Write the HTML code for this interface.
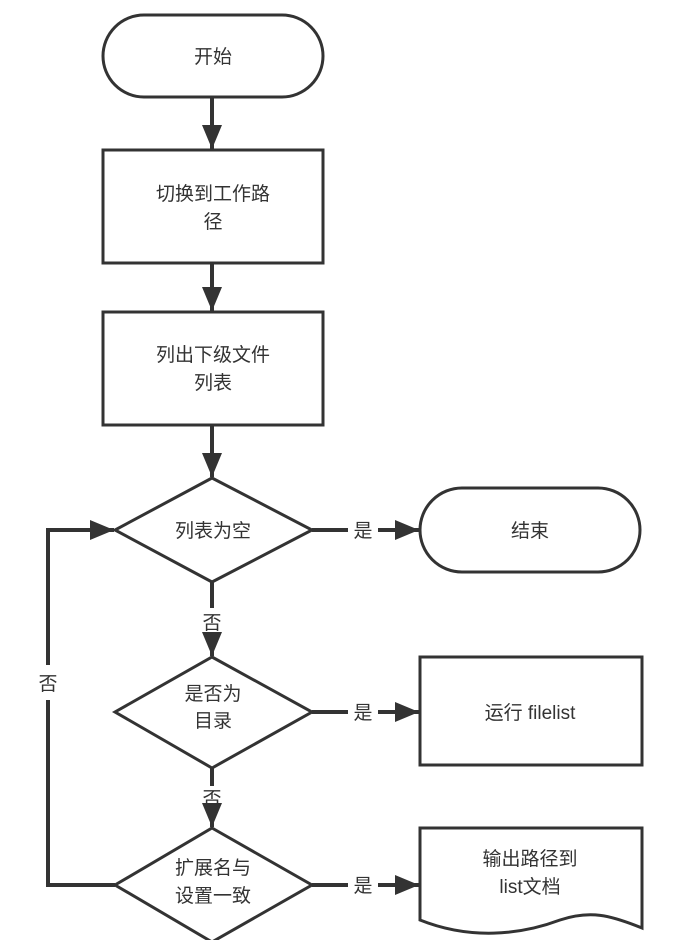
<!DOCTYPE html>
<html><head><meta charset="utf-8"><style>
html,body{margin:0;padding:0;background:#fff;}
svg{display:block;}
text{font-family:"Liberation Sans","Noto Sans CJK SC",sans-serif;font-size:19px;fill:#333;text-anchor:middle;}
</style></head><body>
<svg width="676" height="940" viewBox="0 0 676 940" xmlns="http://www.w3.org/2000/svg">
<defs><marker id="a" markerWidth="24" markerHeight="20" refX="24" refY="10" orient="auto" markerUnits="userSpaceOnUse" viewBox="0 0 24 20"><path d="M0,0L24,10L0,20z" fill="#333"/></marker></defs>
<g fill="none" stroke="#333" stroke-width="3">
<rect x="103" y="15" width="220" height="82" rx="41"/>
<rect x="103" y="150" width="220" height="113"/>
<rect x="103" y="312" width="220" height="113"/>
<path d="M212,478L312,530L212,582L115,530z"/>
<rect x="420" y="488" width="220" height="84" rx="42"/>
<path d="M212,657L312,712L212,768L115,712z"/>
<rect x="420" y="657" width="222" height="108"/>
<path d="M212,828L312,885L212,942L115,885z"/>
<path d="M420,828H642V928C610,915 590,910 560,920C520,935 470,940 420,920z"/>
<g stroke-width="4">
<path d="M212,97V149" marker-end="url(#a)"/>
<path d="M212,263V311" marker-end="url(#a)"/>
<path d="M212,425V477" marker-end="url(#a)"/>
<path d="M212,582V608M212,636V656" marker-end="url(#a)"/>
<path d="M212,768V786M212,810V827" marker-end="url(#a)"/>
<path d="M312,530H348M378,530H419" marker-end="url(#a)"/>
<path d="M312,712H348M378,712H419" marker-end="url(#a)"/>
<path d="M312,885H348M378,885H419" marker-end="url(#a)"/>
<path d="M115,885H48V700M48,665V530H114" marker-end="url(#a)"/>
</g>
</g>
<text x="213" y="63">开始</text>
<text x="213" y="200">切换到工作路</text>
<text x="213" y="228">径</text>
<text x="213" y="361">列出下级文件</text>
<text x="213" y="389">列表</text>
<text x="213" y="537">列表为空</text>
<text x="530" y="537">结束</text>
<text x="213" y="700">是否为</text>
<text x="213" y="727">目录</text>
<text x="530" y="719">运行 filelist</text>
<text x="213" y="874">扩展名与</text>
<text x="213" y="902">设置一致</text>
<text x="530" y="865">输出路径到</text>
<text x="530" y="893">list文档</text>
<text x="363" y="537">是</text>
<text x="363" y="719">是</text>
<text x="363" y="892">是</text>
<text x="212" y="629">否</text>
<text x="212" y="805">否</text>
<text x="48" y="690">否</text>
</svg>
</body></html>
